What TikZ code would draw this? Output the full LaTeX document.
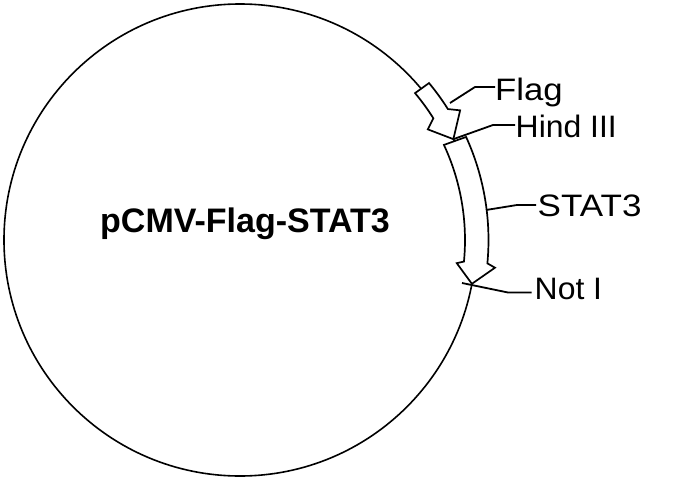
\documentclass[tikz,border=0pt]{standalone}
\usepackage{fontspec}
\setmainfont{Liberation Sans}
\newcommand{\wide}[2]{\scalebox{#1}[1]{#2}}
\begin{document}
\begin{tikzpicture}[x=1pt,y=1pt,
  outline/.style={line width=1.7pt,line join=miter},
  feature/.style={outline,fill=white},
  leader/.style={line width=1.8pt},
  lbl/.style={inner sep=0pt,anchor=base west,font=\fontsize{31}{31}\selectfont},
  ttl/.style={inner sep=0pt,anchor=base,font=\fontsize{34}{34}\selectfont\bfseries}]
\useasboundingbox (-240,-240) rectangle (453,240);
% plasmid circle
\node[circle,draw,line width=1.6pt,minimum size=472pt,inner sep=0pt] (plasmid) at (0,0) {};
\node[ttl] (title) at (5,8) {pCMV-Flag-STAT3};
% STAT3 feature arrow
\draw[feature] (25:225) arc[start angle=25,end angle=-5.5,radius=225]
  -- (-6.1:218) -- (-10.7:236) -- (-6.2:256.5) -- (-5.4:248.5)
  arc[start angle=-5.4,end angle=24.5,radius=248.5] -- cycle;
% Flag feature arrow
\draw[feature] (40:228.5) arc[start angle=40,end angle=32.2,radius=228.5]
  -- (30.5:218) -- (25.3:236) -- (30.5:255.5) -- (32.2:245.7)
  arc[start angle=32.2,end angle=39.7,radius=245.7] -- cycle;
% sites and leader points
\coordinate (flagsite) at (210,137);
\coordinate (flagbend) at (235,153);
\coordinate (flagend) at (255,153);
\coordinate (hindsite) at (25.3:236);
\coordinate (hindbend) at (253,115);
\coordinate (hindend) at (275,115);
\coordinate (statsite) at (246,30);
\coordinate (statbend) at (277,35);
\coordinate (statend) at (296,35);
\coordinate (notsite) at (222,-43);
\coordinate (notbend) at (268,-52.5);
\coordinate (notend) at (291.5,-52.5);
\draw[leader] (flagsite) -- (flagbend) -- (flagend);
\draw[leader] (hindsite) -- (hindbend) -- (hindend);
\draw[leader] (statsite) -- (statbend) -- (statend);
\draw[leader] (notsite) -- (notbend) -- (notend);
% labels
\node[lbl] (flaglbl) at (255,140) {\wide{1.12}{Flag}};
\node[lbl] (hindlbl) at (275.5,103) {\wide{1.03}{Hind III}};
\node[lbl] (statlbl) at (297.5,23.3) {\wide{1.13}{STAT3}};
\node[lbl] (notlbl) at (294.5,-59) {\wide{1.03}{Not I}};
\end{tikzpicture}
\end{document}
